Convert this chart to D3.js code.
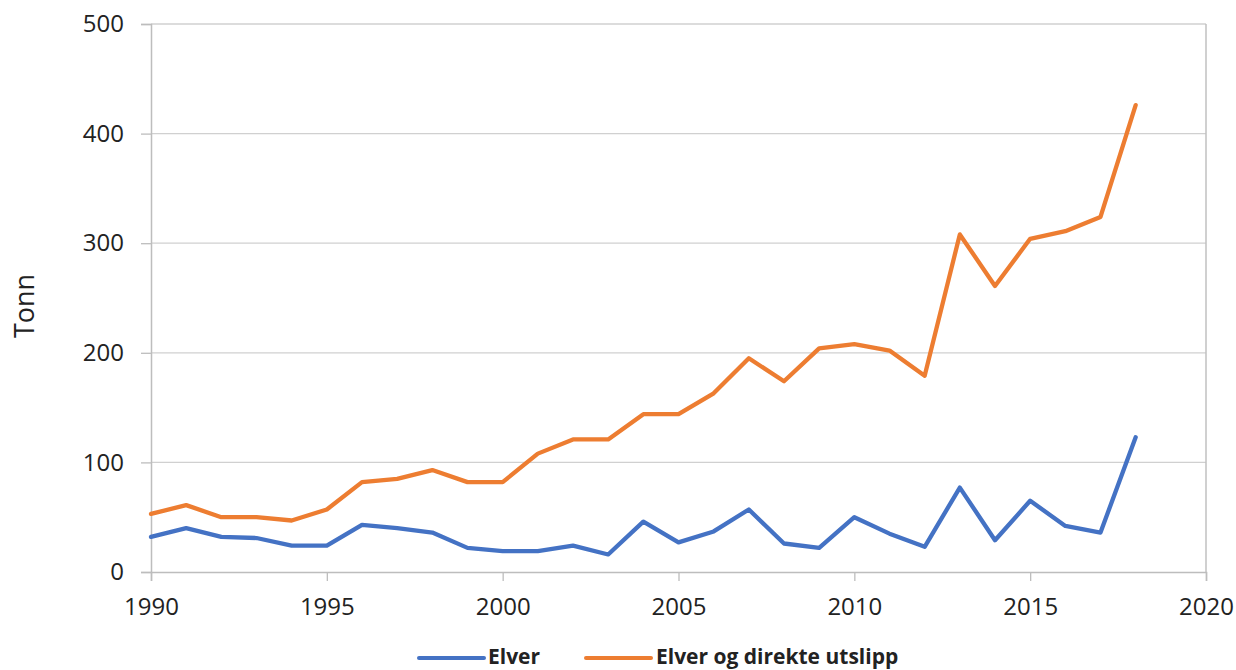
<!DOCTYPE html>
<html><head><meta charset="utf-8">
<script src="https://cdn.jsdelivr.net/npm/d3@7"></script>
<style>body{margin:0;background:#fff}svg{display:block}text{font-family:"Open Sans",sans-serif;fill:#222}</style>
</head><body><svg id="c" width="1236" height="670"></svg>
<script>
const years = d3.range(1990, 2019);
const elver = [32,40,32,31,24,24,43,40,36,22,19,19,24,16,46,27,37,57,26,22,50,35,23,77,29,65,42,36,123];
const elverDirekte = [53,61,50,50,47,57,82,85,93,82,82,108,121,121,144,144,163,195,174,204,208,202,179,308,261,304,311,324,426];
const xTicks = [1990,1995,2000,2005,2010,2015,2020];
const yTicks = [0,100,200,300,400,500];
const seriesNames = ["Elver","Elver og direkte utslipp"];
const colors = ["#4472C4","#ED7D31"];

const svg = d3.select("#c");
const L=151, R=1206, T=24, B=572;
const x = d3.scaleLinear().domain([1990,2020]).range([L,R]);
const y = d3.scaleLinear().domain([0,500]).range([B,T]);

// gridlines
svg.append("g").selectAll("line").data(yTicks.filter(d=>d>0)).join("line")
  .attr("x1",L).attr("x2",R).attr("y1",d=>y(d)).attr("y2",d=>y(d))
  .attr("stroke","#d0d0d0").attr("stroke-width",1.3);
// right border
svg.append("line").attr("x1",R).attr("x2",R).attr("y1",T).attr("y2",B)
  .attr("stroke","#c0c0c0").attr("stroke-width",1.5);

// y axis
const ya = svg.append("g").attr("transform",`translate(${L},0)`)
  .call(d3.axisLeft(y).tickValues(yTicks).tickSize(10).tickPadding(17));
ya.select(".domain").attr("stroke","#bdbdbd").attr("stroke-width",1.5);
ya.selectAll(".tick line").attr("stroke","#bdbdbd").attr("stroke-width",1.3);
ya.selectAll("text").attr("font-size",24).attr("font-family","Open Sans, sans-serif").attr("fill","#222");

// x axis
const xa = svg.append("g").attr("transform",`translate(0,${B})`)
  .call(d3.axisBottom(x).tickValues(xTicks).tickFormat(d3.format("d")).tickSize(9).tickPadding(17));
xa.select(".domain").attr("stroke","#bdbdbd").attr("stroke-width",1.5);
xa.selectAll(".tick line").attr("stroke","#bdbdbd").attr("stroke-width",1.3);
xa.selectAll("text").attr("font-size",24).attr("font-family","Open Sans, sans-serif").attr("fill","#222");

// y title
svg.append("text").attr("transform","translate(34,306) rotate(-90)")
  .attr("text-anchor","middle").attr("font-size",27).text("Tonn");

// lines
const line = d3.line().x((d,i)=>x(years[i])).y(d=>y(d));
[elver, elverDirekte].forEach((s,k)=>{
  svg.append("path").datum(s).attr("d",line).attr("fill","none")
    .attr("stroke",colors[k]).attr("stroke-width",4.3).attr("stroke-linejoin","round").attr("stroke-linecap","round");
});

// legend
const leg = [{x1:419,x2:484,tx:488},{x1:586,x2:651,tx:656}];
leg.forEach((p,k)=>{
  svg.append("line").attr("x1",p.x1).attr("x2",p.x2).attr("y1",658).attr("y2",658)
    .attr("stroke",colors[k]).attr("stroke-width",4).attr("stroke-linecap","round");
  svg.append("text").attr("x",p.tx).attr("y",664).attr("font-size",21).attr("font-weight","bold")
    .text(seriesNames[k]);
});
</script></body></html>
